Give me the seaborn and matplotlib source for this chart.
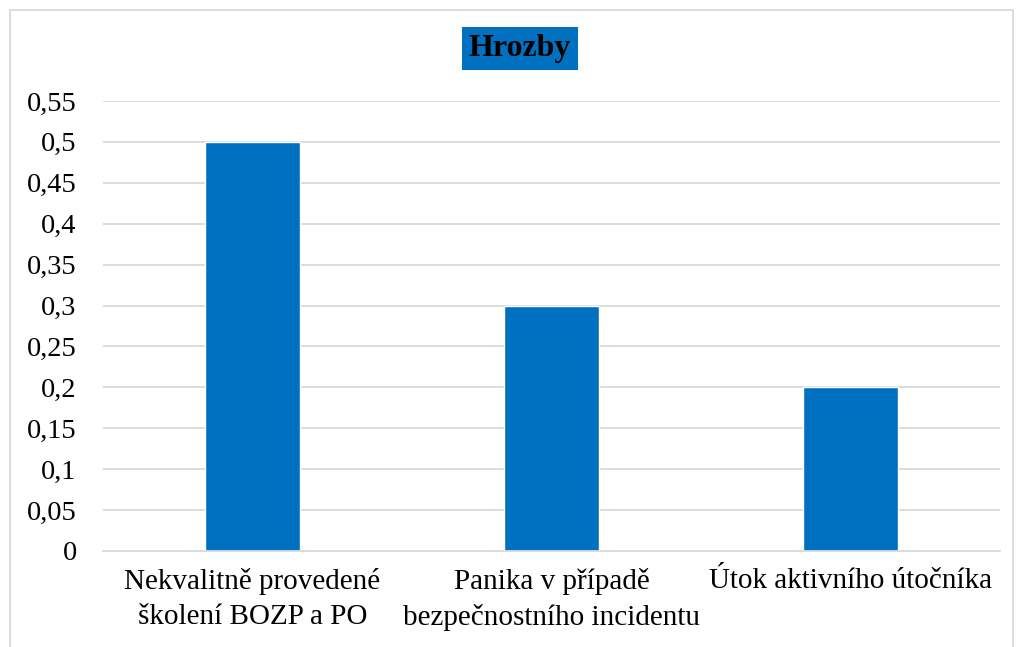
import pandas as pd
import seaborn as sns
import matplotlib.pyplot as plt
from matplotlib.patches import Rectangle
from matplotlib.ticker import FuncFormatter

categories = ['Nekvalitně provedené\nškolení BOZP a PO',
              'Panika v případě\nbezpečnostního incidentu',
              'Útok aktivního útočníka']
values = [0.5, 0.3, 0.2]
yticks = [0, 0.05, 0.1, 0.15, 0.2, 0.25, 0.3, 0.35, 0.4, 0.45, 0.5, 0.55]

df = pd.DataFrame({'hrozba': categories, 'hodnota': values})

sns.set_style('white')
plt.rcParams['font.family'] = ['Liberation Serif', 'DejaVu Serif']

fig = plt.figure(figsize=(10.23, 6.47), dpi=100)
ax = fig.add_axes([0.1007, 0.1484, 0.8768, 0.6955])

sns.barplot(data=df, x='hrozba', y='hodnota', color='#0070C0', saturation=1,
            width=0.315, ax=ax)

ax.set_ylim(0, 0.55)
ax.set_yticks(yticks)
ax.yaxis.set_major_formatter(FuncFormatter(lambda v, p: ('%g' % round(v, 2)).replace('.', ',')))
ax.grid(axis='y', color='#D9D9D9', linewidth=1.3)
ax.set_axisbelow(True)
for s in ['top', 'right', 'left']:
    ax.spines[s].set_visible(False)
ax.spines['bottom'].set_color('#D9D9D9')
ax.spines['bottom'].set_linewidth(1.3)
ax.tick_params(axis='both', length=0, colors='black')
ax.tick_params(axis='y', pad=19, labelsize=20.5)
ax.tick_params(axis='x', pad=12, labelsize=21)
for t in ax.get_xticklabels():
    t.set_linespacing(1.45)
ax.set_xlabel(None)
ax.set_ylabel(None)

fig.text(0.5083, 0.925, 'Hrozby', ha='center', va='center', fontsize=23,
         fontweight='bold', color='black',
         bbox=dict(boxstyle='square,pad=0.22', facecolor='#0070C0', edgecolor='none'))

fig.patches.append(Rectangle((0.0098, -0.05), 0.9805, 1.035, transform=fig.transFigure,
                             fill=False, edgecolor='#D9D9D9', linewidth=1.3))

fig.savefig('out.png', dpi=100)
